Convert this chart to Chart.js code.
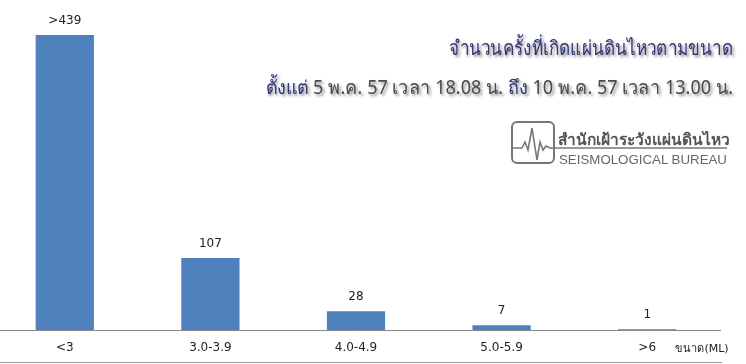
<!DOCTYPE html>
<html>
<head>
<meta charset="utf-8">
<script src="https://cdn.jsdelivr.net/npm/chart.js@4.4.0/dist/chart.umd.min.js"></script>
<style>
  body { margin: 0; background: #fff; overflow: hidden; }
  #wrap { position: relative; width: 746px; height: 364px; overflow: hidden; }
  #barCanvas { position: absolute; left: -8px; top: 0; }
  .titre { position: absolute; right: 13px; white-space: nowrap; font-family: "Noto Sans", "DejaVu Sans", sans-serif; text-shadow: 2px 2px 3px #8a8a8a; transform-origin: right center; }
  #titre1 { top: 32px; font-size: 20px; color: #34367a; transform: scaleX(0.86); }
  #titre2 { top: 72px; font-size: 19px; color: #4a4a4a; transform: scaleX(0.95); }
  .bleu { color: #34367a; }
  #logo { position: absolute; left: 510px; top: 120px; }
  #logoTh { position: absolute; left: 558px; top: 127px; font: bold 15.5px "Noto Sans", "DejaVu Sans", sans-serif; color: #555; white-space: nowrap; }
  #logoEn { position: absolute; left: 559px; top: 152px; font: 13.3px "Liberation Sans", Arial, sans-serif; color: #666; white-space: nowrap; }
</style>
</head>
<body>
<div id="wrap">
  <canvas id="barCanvas" width="754" height="364"></canvas>
  <div class="titre" id="titre1">จำนวนครั้งที่เกิดแผ่นดินไหวตามขนาด</div>
  <div class="titre" id="titre2"><span class="bleu">ตั้งแต่</span> 5 พ.ค. 57 เวลา 18.08 น. <span class="bleu">ถึง</span> 10 พ.ค. 57 เวลา 13.00 น.</div>
  <svg id="logo" width="220" height="46">
    <rect x="2" y="2" width="42" height="41" rx="5" ry="5" fill="none" stroke="#777" stroke-width="2"/>
    <polyline points="2,28 12,28 15,22 18,30 22,8 27,40 30,22 33,30 36,26 40,28 217,28" fill="none" stroke="#777" stroke-width="1.6"/>
  </svg>
  <div id="logoTh">สำนักเฝ้าระวังแผ่นดินไหว</div>
  <div id="logoEn">SEISMOLOGICAL BUREAU</div>
</div>
<script>
// ขนาดแผ่นดินไหว
const categories = ["<3", "3.0-3.9", "4.0-4.9", "5.0-5.9", ">6"];
const counts = [439, 107, 28, 7, 1];
const valueLabels = [">439", "107", "28", "7", "1"];
const axisTitle = "ขนาด(ML)";

const barCanvas = document.getElementById("barCanvas");

// étiquettes au-dessus des barres + titre de l'axe + trait du bas
const labelsPlugin = {
  id: "labelsPlugin",
  afterDatasetsDraw(chart) {
    const ctx = chart.ctx;
    const meta = chart.getDatasetMeta(0);
    ctx.save();
    ctx.font = "12px 'DejaVu Sans', sans-serif";
    ctx.fillStyle = "#222";
    ctx.textAlign = "center";
    ctx.textBaseline = "middle";
    meta.data.forEach((bar, i) => {
      ctx.fillText(valueLabels[i], bar.x, bar.y - 14);
    });
    const xs = chart.scales.x;
    ctx.font = "11px 'DejaVu Sans', sans-serif";
    ctx.fillText(axisTitle, xs.right - 18, xs.top + 19);
    ctx.strokeStyle = "#999";
    ctx.lineWidth = 1;
    ctx.beginPath();
    ctx.moveTo(chart.chartArea.left, chart.height - 1.5);
    ctx.lineTo(chart.chartArea.right + 2, chart.height - 1.5);
    ctx.stroke();
    ctx.restore();
  }
};

const barChart = new Chart(barCanvas, {
  type: "bar",
  data: {
    labels: categories,
    datasets: [
      {
        label: "จำนวนครั้ง",
        data: counts,
        backgroundColor: "#4f81bd",
        categoryPercentage: 1,
        barPercentage: 0.4
      }
    ]
  },
  options: {
    responsive: false,
    animation: false,
    layout: { padding: { top: 35, right: 26, left: 0, bottom: 0 } },
    plugins: { legend: { display: false }, tooltip: { enabled: false } },
    scales: {
      x: {
        grid: { display: false, drawTicks: false },
        border: { display: true, color: "#888", width: 1 },
        ticks: { color: "#222", padding: 11, font: { size: 12, family: "'DejaVu Sans', sans-serif" } },
        afterFit: (s) => { s.height = 34; }
      },
      y: {
        display: false,
        min: 0,
        max: 439
      }
    }
  },
  plugins: [labelsPlugin]
});
</script>
</body>
</html>
